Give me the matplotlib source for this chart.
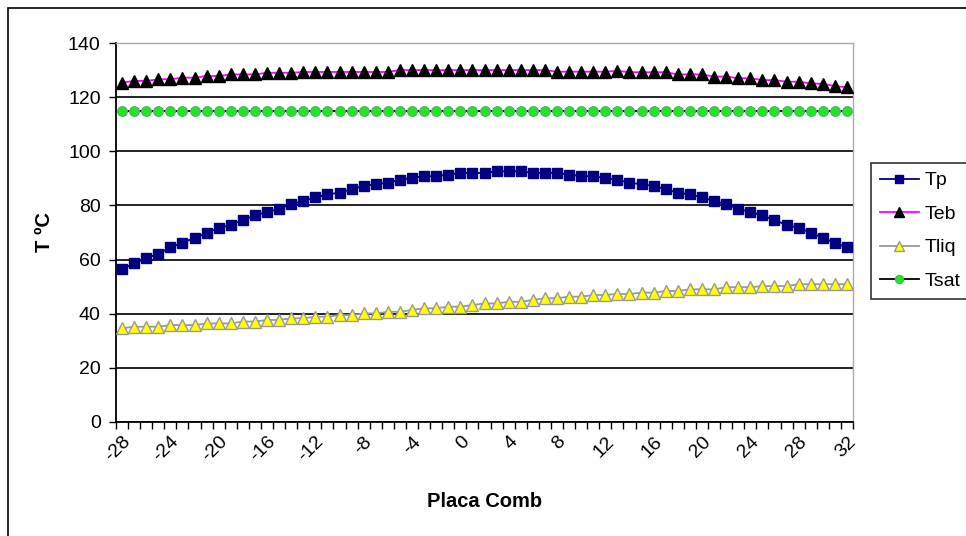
import matplotlib
matplotlib.use("Agg")
import matplotlib.pyplot as plt
from matplotlib.patches import Rectangle
import numpy as np

plt.rcParams['font.family'] = ['Liberation Sans', 'DejaVu Sans']

categories = list(range(-28, 33))

tp = [56.4, 58.6, 60.5, 62.1, 64.5, 66.2, 68.0, 69.8, 71.7, 72.8,
      74.6, 76.3, 77.6, 78.7, 80.5, 81.6, 83.0, 84.1, 84.7, 86.0,
      87.2, 87.8, 88.4, 89.5, 90.1, 90.8, 90.8, 91.4, 92.0, 92.0,
      92.0, 92.6, 92.6, 92.6, 92.0, 92.0, 92.0, 91.4, 90.8, 90.8,
      90.1, 89.5, 88.4, 87.8, 87.2, 86.0, 84.7, 84.1, 83.0, 81.6,
      80.5, 78.7, 77.6, 76.3, 74.6, 72.8, 71.7, 69.9, 68.0, 66.2,
      64.5]

teb = [125.4, 126.0, 126.0, 126.6, 126.6, 127.2, 127.2, 127.8, 127.8, 128.4,
       128.4, 128.4, 129.0, 129.0, 129.0, 129.3, 129.3, 129.3, 129.3, 129.3,
       129.3, 129.3, 129.3, 130.0, 130.0, 130.0, 130.0, 130.0, 130.0, 130.0,
       130.0, 130.0, 130.0, 130.0, 130.0, 130.0, 129.4, 129.4, 129.4, 129.4,
       129.4, 129.7, 129.2, 129.2, 129.2, 129.2, 128.4, 128.4, 128.4, 127.6,
       127.6, 127.0, 127.0, 126.3, 126.3, 125.7, 125.7, 125.1, 124.9, 124.1,
       123.6]

tliq = [34.6, 35.2, 35.2, 35.2, 35.8, 35.8, 35.8, 36.4, 36.4, 36.4,
        37.1, 37.1, 37.7, 37.7, 38.3, 38.3, 38.9, 38.9, 39.5, 39.5,
        40.1, 40.1, 40.7, 40.7, 41.4, 42.0, 42.0, 42.6, 42.6, 43.2,
        43.8, 43.8, 44.4, 44.4, 45.1, 45.7, 45.7, 46.3, 46.3, 46.9,
        46.9, 47.3, 47.3, 47.8, 47.8, 48.4, 48.4, 49.0, 49.0, 49.0,
        49.8, 49.8, 49.8, 50.2, 50.2, 50.2, 50.9, 50.9, 50.9, 50.9,
        50.9]

tsat = [115.0] * 61

series_names = ['Tp', 'Teb', 'Tliq', 'Tsat']
y_ticks = [0, 20, 40, 60, 80, 100, 120, 140]

W, H = 966, 536
fig = plt.figure(figsize=(W / 100, H / 100), dpi=100)
fig.patches.append(Rectangle((8 / W, -10 / H), (W + 20) / W, (H - 8 + 10) / H,
                             transform=fig.transFigure, fill=False,
                             edgecolor='black', linewidth=1.2))

ax = fig.add_axes([116 / W, (H - 422) / H, (853 - 116) / W, (422 - 43) / H])
x = np.arange(len(categories))

ax.plot(x, tp, color='#000080', lw=1.3, marker='s', ms=7.5,
        mfc='#000080', mec='#000080', label=series_names[0], zorder=3)
ax.plot(x, teb, color='#ff00ff', lw=1.3, marker='^', ms=8,
        mfc='black', mec='black', label=series_names[1], zorder=3)
ax.plot(x, tliq, color='#999999', lw=1.3, marker='^', ms=8.5,
        mfc='#ffff00', mec='#999999', mew=1.0, label=series_names[2], zorder=3)
ax.plot(x, tsat, color='black', lw=1.3, marker='o', ms=7,
        mfc='#22e622', mec='#55aa77', mew=0.8, label=series_names[3], zorder=3)

ax.set_xlim(-0.5, len(categories) - 0.5)
ax.set_ylim(0, 140)
ax.set_yticks(y_ticks)
ax.set_yticklabels([str(v) for v in y_ticks], fontsize=14)
ax.yaxis.grid(True, color='#222222', lw=1.4)
ax.set_axisbelow(True)

lab_idx = [i for i, c in enumerate(categories) if c % 4 == 0]
ax.set_xticks(lab_idx)
ax.set_xticklabels([str(categories[i]) for i in lab_idx], rotation=45,
                   ha='right', va='top', rotation_mode='anchor', fontsize=14)
ax.set_xticks(np.arange(-0.5, len(categories), 1.0), minor=True)
ax.tick_params(axis='x', which='major', length=0, pad=8)
ax.tick_params(axis='x', which='minor', length=5, width=1, direction='out')
ax.tick_params(axis='y', length=5, width=1, direction='out', pad=6)

for s in ['top', 'right']:
    ax.spines[s].set_color('#aaaaaa')
    ax.spines[s].set_linewidth(1)
for s in ['left', 'bottom']:
    ax.spines[s].set_color('black')
    ax.spines[s].set_linewidth(1.3)

ax.set_ylabel('T ºC', fontsize=14.5, fontweight='bold', labelpad=10)
ax.set_xlabel('Placa Comb', fontsize=14.5, fontweight='bold', labelpad=19)

leg = ax.legend(loc='upper left', bbox_to_anchor=(871 / W, (H - 163) / H),
                bbox_transform=fig.transFigure, fontsize=14, frameon=True,
                fancybox=False, edgecolor='black', handlelength=2.0,
                borderpad=0.45, labelspacing=0.82, handletextpad=0.3,
                borderaxespad=0, markerscale=0.85)
leg.get_frame().set_linewidth(1.2)

fig.savefig('out.png', dpi=100)
